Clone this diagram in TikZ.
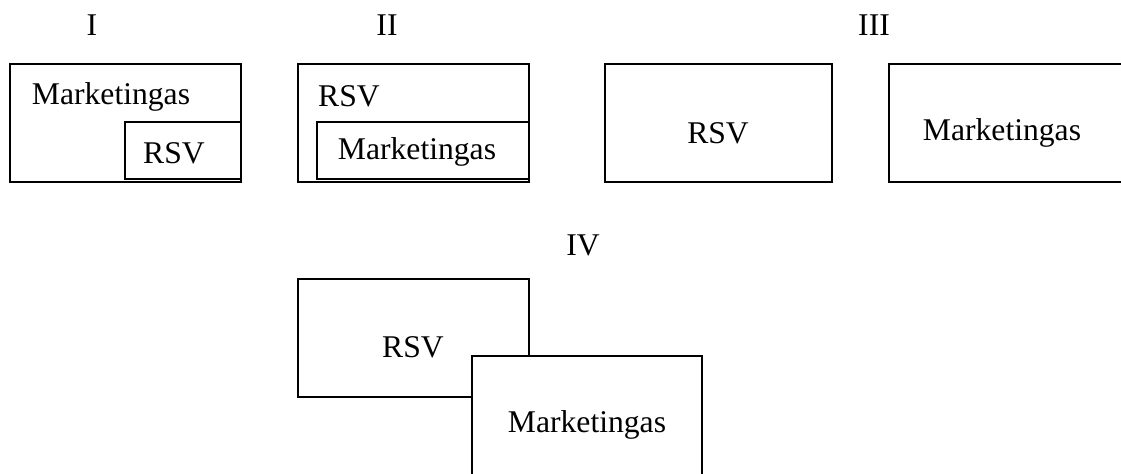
\documentclass[tikz,border=0pt]{standalone}
\usepackage{fontspec}
\setmainfont{Liberation Serif}
\usepackage{tikz}
\usetikzlibrary{positioning}

\begin{document}
\begin{tikzpicture}[x=0.02cm, y=-0.02cm,
  box/.style={draw=black, line width=1pt},
  txt/.style={inner sep=0pt, font=\fontsize{18}{21}\selectfont}
]
  \useasboundingbox (0,0) rectangle (1121,473);
  \clip (0,0) rectangle (1121,473);

  % variant labels
  \node[txt] (lI)   at (92, 25)  {I};
  \node[txt] (lII)  at (387, 25) {II};
  \node[txt] (lIII) at (874, 25) {III};
  \node[txt] (lIV)  at (583, 245) {IV};

  % I
  \draw[box] (10, 64) rectangle (241, 182);
  \draw[box] (125, 122) rectangle (241, 179);
  \node[txt] (mI) at (111, 97)  {Marketingas};
  \node[txt] (rI) at (174, 153) {RSV};

  % II
  \draw[box] (298, 64) rectangle (529, 182);
  \draw[box] (317, 122) rectangle (529, 179);
  \node[txt] (rII) at (349, 96)  {RSV};
  \node[txt] (mII) at (417, 152) {Marketingas};

  % III
  \draw[box] (605, 64) rectangle (832, 182);
  \draw[box] (889, 64) rectangle (1124, 182);
  \node[txt] (rIII) at (718, 133)  {RSV};
  \node[txt] (mIII) at (1002, 133) {Marketingas};

  % IV
  \draw[box] (298, 279) rectangle (529, 397);
  \draw[box, fill=white] (472, 356) rectangle (702, 476);
  \node[txt] (rIV) at (413, 347) {RSV};
  \node[txt] (mIV) at (587, 425) {Marketingas};
\end{tikzpicture}
\end{document}
